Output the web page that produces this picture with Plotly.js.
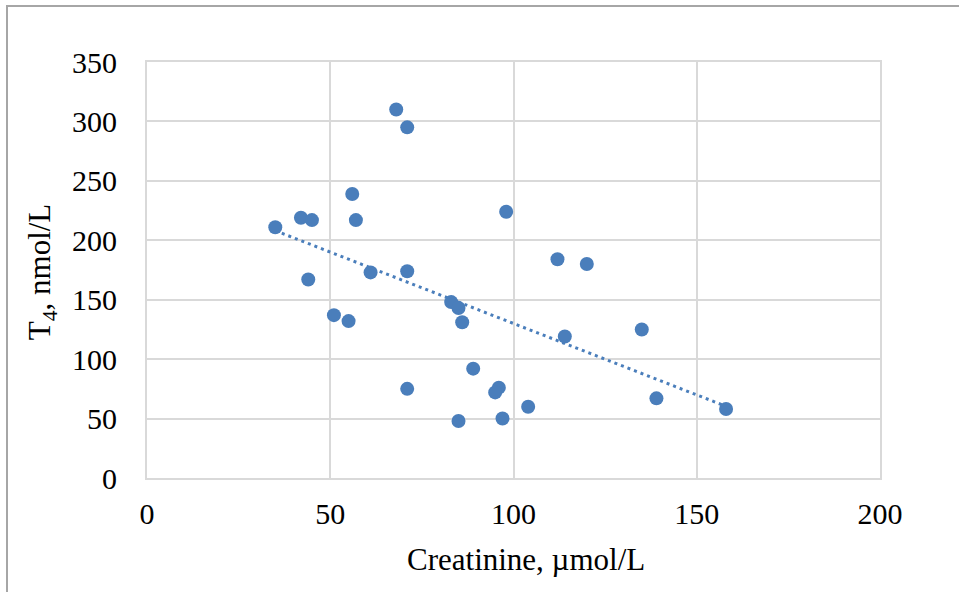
<!DOCTYPE html>
<html>
<head>
<meta charset="utf-8">
<script src="https://cdn.plot.ly/plotly-3.0.1.min.js"></script>
<style>
html,body{margin:0;padding:0;background:#fff;}
#wrap{position:relative;width:959px;height:592px;overflow:hidden;}
#chart{position:absolute;left:0;top:0;width:959px;height:592px;}
#frame{position:absolute;left:6px;top:5px;width:1000px;height:585px;border:2px solid #a6a6a6;border-bottom-color:#d0d0d0;pointer-events:none;}
</style>
</head>
<body>
<div id="wrap"><div id="chart"></div><div id="frame"></div></div>
<script>
// Creatinine (µmol/L)
var creatinine = [68, 71, 56, 42, 45, 57, 35, 98, 61, 71, 44, 51, 55, 83, 85, 86, 89, 71, 96, 95, 104, 85, 97, 112, 120, 135, 114, 139, 158];
// T4 (nmol/L)
var t4 = [310, 295, 239, 219, 217, 217, 211, 224, 173, 174, 167, 137, 132, 148, 143, 131, 92, 75, 76, 72, 60, 48, 50, 184, 180, 125, 119, 67, 58];
var xTicks = [0, 50, 100, 150, 200];
var yTicks = [0, 50, 100, 150, 200, 250, 300, 350];

// Linear trendline (least squares) from the data
var n = creatinine.length, mx = 0, my = 0;
for (var i = 0; i < n; i++) { mx += creatinine[i]; my += t4[i]; }
mx /= n; my /= n;
var sxy = 0, sxx = 0;
for (var i = 0; i < n; i++) { sxy += (creatinine[i]-mx)*(t4[i]-my); sxx += (creatinine[i]-mx)*(creatinine[i]-mx); }
var slope = sxy / sxx, icpt = my - slope*mx;
var xmin = Math.min.apply(null, creatinine), xmax = Math.max.apply(null, creatinine);
var trendX = [xmin, xmax];
var trendY = trendX.map(function(v){ return icpt + slope*v; });

var blue = '#4a7ebb';
var font = 'Liberation Serif, Times New Roman, serif';

var traces = [
  {x: trendX, y: trendY, mode: 'lines', type: 'scatter', hoverinfo: 'skip',
   line: {color: blue, width: 3, dash: '3px,4px'}},
  {x: creatinine, y: t4, mode: 'markers', type: 'scatter',
   marker: {color: blue, size: 14, line: {width: 0}}}
];

var axisCommon = {
  showgrid: true, gridcolor: '#d9d9d9', gridwidth: 2,
  zeroline: false, showline: true, linecolor: '#d9d9d9', linewidth: 2, mirror: true,
  ticks: '', tickfont: {family: font, size: 30, color: '#000'}
};

var layout = {
  width: 959, height: 592,
  margin: {l: 147, r: 79, t: 62, b: 114, pad: 0},
  paper_bgcolor: '#fff', plot_bgcolor: '#fff',
  showlegend: false,
  font: {family: font, color: '#000'},
  xaxis: Object.assign({}, axisCommon, {range: [0, 200], tickvals: xTicks, ticktext: xTicks.map(String), ticklabelstandoff: 8}),
  yaxis: Object.assign({}, axisCommon, {range: [0, 350], tickvals: yTicks, ticktext: yTicks.map(String), ticklabelstandoff: 22}),
  annotations: [
    {text: 'Creatinine, µmol/L', xref: 'paper', yref: 'paper', x: 0.517, y: -0.197,
     xanchor: 'center', yanchor: 'middle', showarrow: false, font: {family: font, size: 31, color: '#000'}},
    {text: 'T<sub>4</sub>, nmol/L', xref: 'paper', yref: 'paper', x: -0.143, y: 0.495,
     xanchor: 'center', yanchor: 'middle', textangle: -90, showarrow: false, font: {family: font, size: 31, color: '#000'}}
  ]
};

Plotly.newPlot('chart', traces, layout, {staticPlot: true, displayModeBar: false});
</script>
</body>
</html>
